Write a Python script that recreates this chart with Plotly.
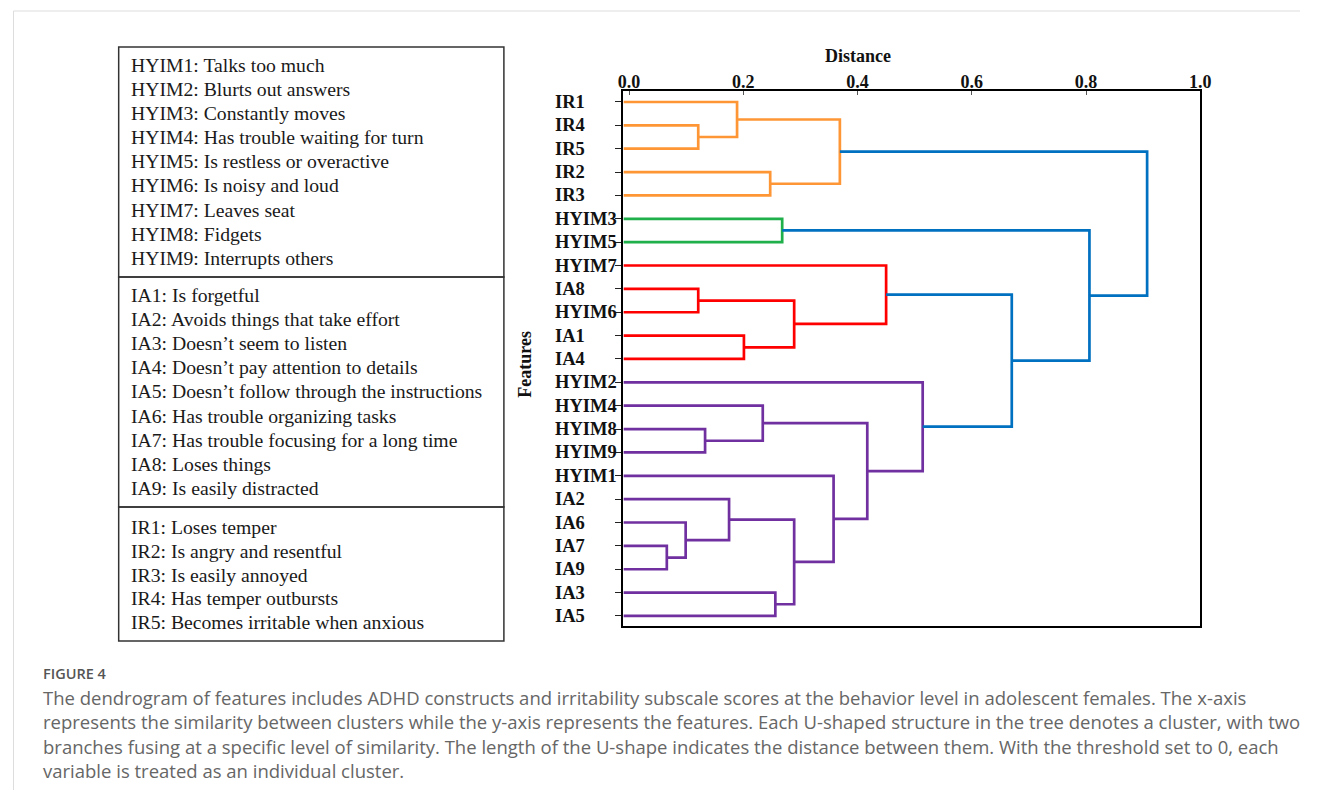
import plotly.graph_objects as go

W, H = 1319, 798
OFF = 8                      # default body margin of the page
FW, FH = W - 2 * OFF, H - 2 * OFF

# ---------------- data ----------------
leaves = ["IR1", "IR4", "IR5", "IR2", "IR3", "HYIM3", "HYIM5", "HYIM7", "IA8", "HYIM6",
          "IA1", "IA4", "HYIM2", "HYIM4", "HYIM8", "HYIM9", "HYIM1", "IA2", "IA6", "IA7",
          "IA9", "IA3", "IA5"]

merge_names = ["C1", "C2", "C3", "C4", "C5", "C6", "C7", "C8", "C9", "C10", "C11",
               "C12", "C13", "C14", "C15", "C16", "C17", "C18", "C19", "C20", "C21", "C22"]
merge_left = ["IR4", "IR1", "IR2", "C2", "HYIM3", "IA8", "IA1", "C6", "HYIM7", "HYIM8",
              "HYIM4", "IA7", "IA6", "IA2", "IA3", "C14", "HYIM1", "C11", "HYIM2", "C9",
              "C5", "C4"]
merge_right = ["IR5", "C1", "IR3", "C3", "HYIM5", "HYIM6", "IA4", "C7", "C8", "HYIM9",
               "C10", "IA9", "C12", "C13", "IA5", "C15", "C16", "C17", "C18", "C19",
               "C20", "C21"]
merge_height = [0.121, 0.189, 0.247, 0.369, 0.268, 0.121, 0.201, 0.289, 0.450, 0.133,
                0.234, 0.066, 0.099, 0.175, 0.256, 0.289, 0.358, 0.417, 0.514, 0.670,
                0.806, 0.907]
merge_group = ["IR", "IR", "IR", "IR", "HY", "MX", "MX", "MX", "MX", "PU", "PU", "PU",
               "PU", "PU", "PU", "PU", "PU", "PU", "PU", "TOP", "TOP", "TOP"]

x_ticks = [0.0, 0.2, 0.4, 0.6, 0.8, 1.0]
x_tick_labels = ["0.0", "0.2", "0.4", "0.6", "0.8", "1.0"]

legend_hyim = ["HYIM1: Talks too much", "HYIM2: Blurts out answers", "HYIM3: Constantly moves",
               "HYIM4: Has trouble waiting for turn", "HYIM5: Is restless or overactive",
               "HYIM6: Is noisy and loud", "HYIM7: Leaves seat", "HYIM8: Fidgets",
               "HYIM9: Interrupts others"]
legend_ia = ["IA1: Is forgetful", "IA2: Avoids things that take effort",
             "IA3: Doesn\u2019t seem to listen", "IA4: Doesn\u2019t pay attention to details",
             "IA5: Doesn\u2019t follow through the instructions",
             "IA6: Has trouble organizing tasks", "IA7: Has trouble focusing for a long time",
             "IA8: Loses things", "IA9: Is easily distracted"]
legend_ir = ["IR1: Loses temper", "IR2: Is angry and resentful", "IR3: Is easily annoyed",
             "IR4: Has temper outbursts", "IR5: Becomes irritable when anxious"]

caption_title = "FIGURE 4"
caption_lines = [
    "The dendrogram of features includes ADHD constructs and irritability subscale scores at the behavior level in adolescent females. The x-axis",
    "represents the similarity between clusters while the y-axis represents the features. Each U-shaped structure in the tree denotes a cluster, with two",
    "branches fusing at a specific level of similarity. The length of the U-shape indicates the distance between them. With the threshold set to 0, each",
    "variable is treated as an individual cluster.",
]

# ---------------- style ----------------
colors = {"IR": "#FF9636", "HY": "#1FAF4B", "MX": "#FF0000", "PU": "#7030A0", "TOP": "#0070C0"}
X_MIN, X_MAX = -0.01, 1.0

def px_x(p):
    return (p - OFF) / FW

def px_y(p):
    return 1 - (p - OFF) / FH

# ---------------- build dendrogram ----------------
pos = {name: i for i, name in enumerate(leaves)}
hgt = {name: X_MIN for name in leaves}

fig = go.Figure()
for name, l, r, h, g in zip(merge_names, merge_left, merge_right, merge_height, merge_group):
    yl, yr = pos[l], pos[r]
    fig.add_trace(go.Scatter(
        x=[hgt[l], h, h, hgt[r]], y=[yl, yl, yr, yr], mode="lines",
        line=dict(color=colors[g], width=2.7), hoverinfo="skip", showlegend=False))
    pos[name] = (yl + yr) / 2
    hgt[name] = h

serif = "Liberation Serif, Times New Roman, serif"

fig.update_layout(
    width=FW, height=FH, margin=dict(l=0, r=0, t=0, b=0),
    paper_bgcolor="white", plot_bgcolor="white", showlegend=False,
    xaxis=dict(domain=[px_x(626), px_x(1210)], range=[X_MIN, X_MAX], side="top",
               tickvals=x_ticks, ticktext=x_tick_labels, ticks="inside", ticklen=4,
               tickcolor="#555", showgrid=False, zeroline=False, showline=True,
               linecolor="black", linewidth=2, mirror=True, ticklabelstandoff=-6,
               tickfont=dict(family=serif, size=18, color="#111", weight="bold")),
    yaxis=dict(domain=[px_y(626), px_y(91)], range=[22.43, -0.47],
               tickvals=list(range(len(leaves))), showticklabels=False, ticks="outside",
               ticklen=6, tickcolor="#222", tickwidth=1, showgrid=False, zeroline=False,
               showline=True, linecolor="black", linewidth=2, mirror=True),
)

ann = []
# leaf labels, left-aligned like the original
for i, name in enumerate(leaves):
    ann.append(dict(x=px_x(555), y=i, xref="paper", yref="y", text=name,
                    showarrow=False, xanchor="left", yanchor="middle",
                    font=dict(family=serif, size=18.5, color="#111", weight="bold")))

ann.append(dict(x=px_x(863), y=px_y(56), xref="paper", yref="paper", text="Distance",
                showarrow=False, xanchor="center", yanchor="middle",
                font=dict(family=serif, size=18, color="#111", weight="bold")))
ann.append(dict(x=px_x(526), y=px_y(364), xref="paper", yref="paper", text="Features",
                showarrow=False, xanchor="center", yanchor="middle", textangle=-90,
                font=dict(family=serif, size=18, color="#111", weight="bold")))

# legend box
shapes = []
box_l, box_r = 115, 505
for (y0, y1) in [(47, 277), (277, 507), (507, 641)]:
    shapes.append(dict(type="rect", xref="paper", yref="paper",
                       x0=px_x(box_l), x1=px_x(box_r), y0=px_y(y1), y1=px_y(y0),
                       line=dict(color="#333", width=1.5)))

def add_legend(lines, y_start, step):
    for i, t in enumerate(lines):
        ann.append(dict(x=px_x(125), y=px_y(y_start + i * step), xref="paper", yref="paper",
                        text=t, showarrow=False, xanchor="left", yanchor="middle",
                        font=dict(family=serif, size=19.7, color="#1a1a1a")))

add_legend(legend_hyim, 65, 24.1)
add_legend(legend_ia, 295, 24.1)
add_legend(legend_ir, 527, 23.8)

# page border lines
shapes.append(dict(type="line", xref="paper", yref="paper", x0=px_x(8.5), x1=1,
                   y0=px_y(11), y1=px_y(11), line=dict(color="#DDDDDD", width=1)))
shapes.append(dict(type="line", xref="paper", yref="paper", x0=px_x(8.5), x1=px_x(8.5),
                   y0=px_y(11), y1=0, line=dict(color="#DDDDDD", width=1)))

# caption
ann.append(dict(x=px_x(36), y=px_y(673), xref="paper", yref="paper", text=caption_title,
                showarrow=False, xanchor="left", yanchor="middle",
                font=dict(family="Open Sans", size=14.5, color="#555", weight=600)))
for i, t in enumerate(caption_lines):
    ann.append(dict(x=px_x(36), y=px_y(697 + i * 24.5), xref="paper", yref="paper", text=t,
                    showarrow=False, xanchor="left", yanchor="middle",
                    font=dict(family="Open Sans", size=18.5, color="#666")))

fig.update_layout(annotations=ann, shapes=shapes)
fig.write_html("out.html")
